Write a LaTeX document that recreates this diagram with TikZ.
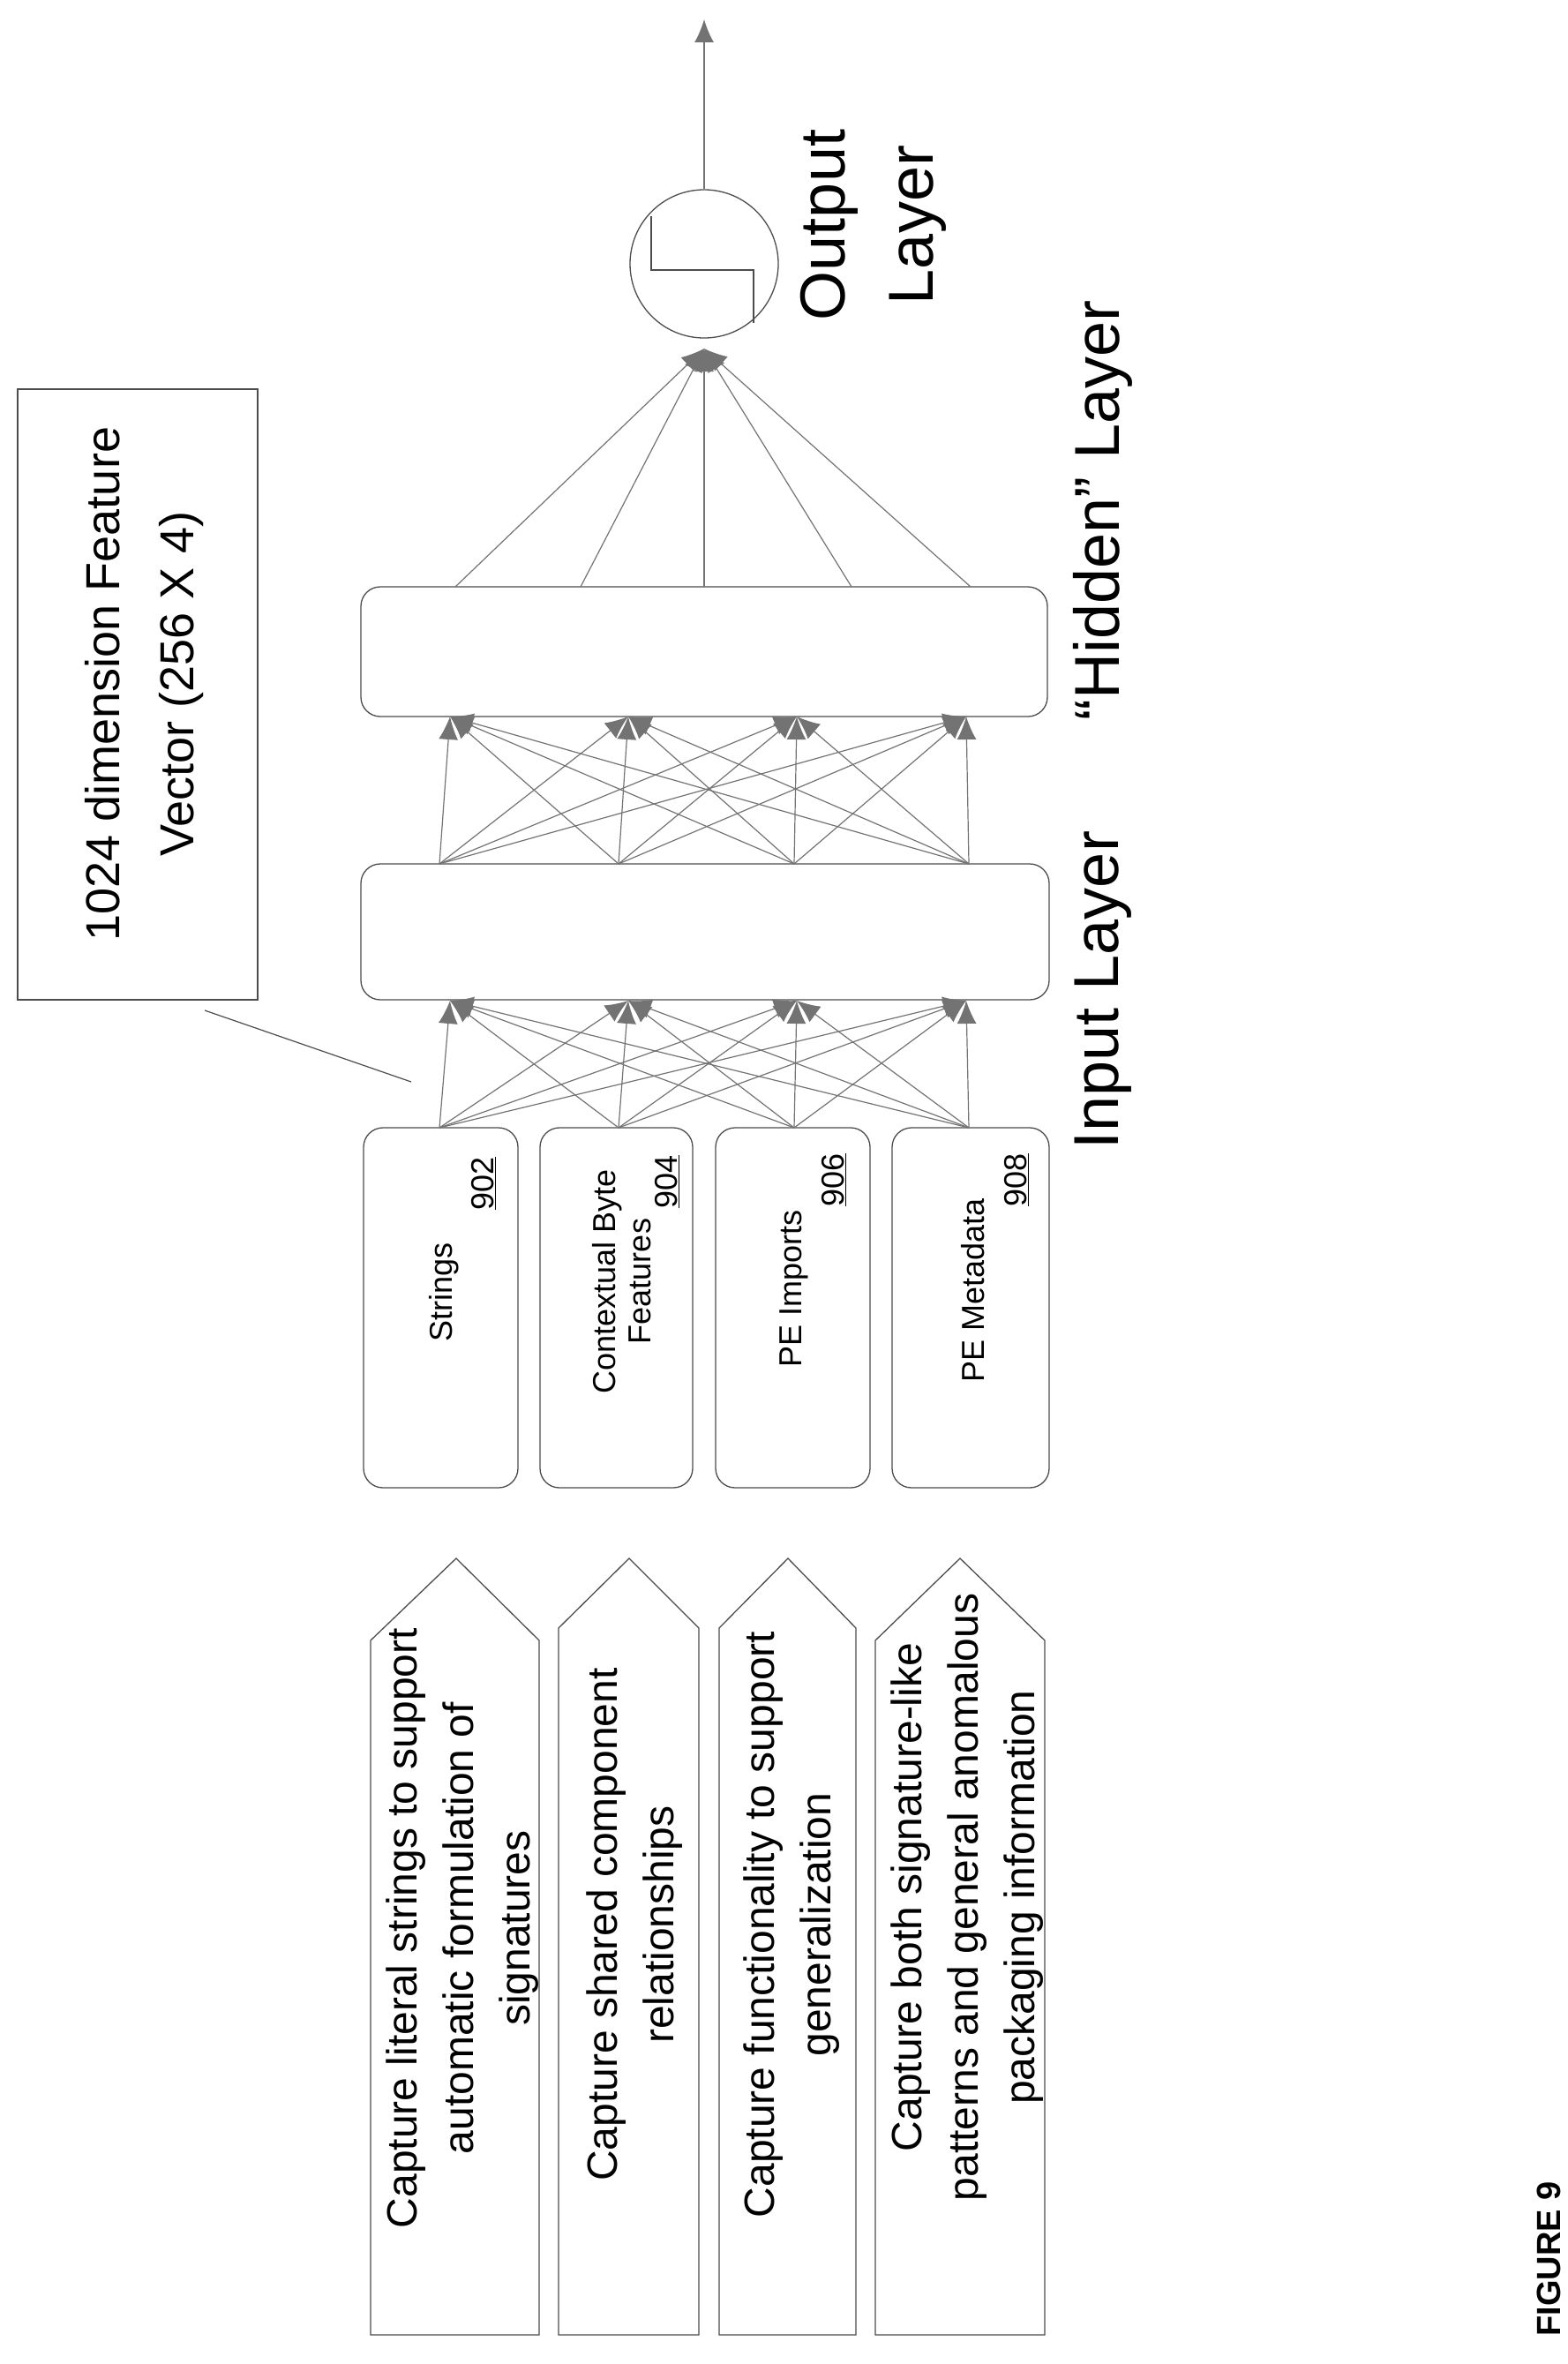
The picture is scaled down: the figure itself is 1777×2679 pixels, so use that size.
\documentclass[tikz,border=0pt]{standalone}
\usepackage{fontspec}
\setmainfont{Liberation Sans}
\usetikzlibrary{arrows.meta}
\begin{document}
\begin{tikzpicture}[x=1pt,y=-1pt,
  box/.style={draw=black!70,line width=1.3pt,rounded corners=22pt,inner sep=0pt},
  conn/.style={draw=black!55,line width=1.2pt,-{Latex[length=26pt,width=22pt]}},
  lbl/.style={rotate=90,align=center,font=\fontsize{72}{100}\selectfont},
  ftxt/.style={rotate=90,align=center,font=\fontsize{36}{40}\selectfont},
  ptxt/.style={rotate=90,align=center,font=\fontsize{48}{64}\selectfont},
  pent/.style={draw=black!70,line width=1.3pt}]
\useasboundingbox (0,0) rectangle (1777,2679);
% feature boxes
\node[box,minimum width=175pt,minimum height=408pt] (f1) at (499.5,1482) {};
\node[box,minimum width=173pt,minimum height=408pt] (f2) at (698.5,1482) {};
\node[box,minimum width=175pt,minimum height=408pt] (f3) at (898.5,1482) {};
\node[box,minimum width=178pt,minimum height=408pt] (f4) at (1100,1482) {};
\node[ftxt] (t1) at (503,1464) {Strings};
\node[ftxt] (n1) at (548,1341) {\underline{902}};
\node[ftxt] (t2) at (705,1452) {Contextual Byte\\Features};
\node[ftxt] (n2) at (756,1339) {\underline{904}};
\node[ftxt] (t3) at (900,1460) {PE Imports};
\node[ftxt] (n3) at (945,1337) {\underline{906}};
\node[ftxt] (t4) at (1103,1462) {PE Metadata};
\node[ftxt] (n4) at (1152,1337) {\underline{908}};
% layers
\node[box,minimum width=780pt,minimum height=154pt] (inl) at (799,1056) {};
\node[box,minimum width=778pt,minimum height=147pt] (hid) at (798,738.5) {};
\node[draw=black!70,line width=1.3pt,circle,minimum size=168pt,inner sep=0pt] (out) at (798,299) {};
\draw[black!70,line width=1.1pt] (738,245) -- (738,306) -- (854,306) -- (854,366);
\coordinate (top) at (798,22);
\draw[conn] (out.north) -- (top);
% connection points
\foreach \i/\x in {1/498,2/701,3/900,4/1098}{
  \coordinate (fb\i) at (\x,1278);
  \coordinate (it\i) at (\x,979);
}
\foreach \i/\x in {1/510,2/712,3/903,4/1095}{
  \coordinate (ib\i) at (\x,1134);
  \coordinate (hb\i) at (\x,812);
}
\foreach \i in {1,...,4}{\foreach \j in {1,...,4}{
  \draw[conn] (fb\i) -- (ib\j);
  \draw[conn] (it\i) -- (hb\j);
}}
\coordinate (oin) at (798,395);
\foreach \i/\x in {1/516,2/658,3/798,4/965,5/1100}{
  \coordinate (ht\i) at (\x,665);
  \draw[conn] (ht\i) -- (oin);
}
% feature vector
\node[draw=black!70,line width=1.3pt,minimum width=272pt,minimum height=692pt,inner sep=0pt] (fv) at (156,787) {};
\node[rotate=90,align=center,font=\fontsize{54}{84}\selectfont] (fvt) at (164,775) {1024 dimension Feature\\Vector (256 X 4)};
\coordinate (fva) at (232,1145);
\coordinate (fvb) at (466,1226);
\draw[black!70,line width=1.2pt] (fva) -- (fvb);
% labels
\node[lbl] (li) at (1250,1122) {Input Layer};
\node[lbl] (lh) at (1250,578) {``Hidden'' Layer};
\node[lbl] (lo) at (990,255) {Output\\Layer};
% pentagons
\draw[pent] (420,2646) -- (420,1859) -- (517,1766) -- (611,1859) -- (611,2646) -- cycle;
\draw[pent] (633,2646) -- (633,1845) -- (713,1766) -- (792,1845) -- (792,2646) -- cycle;
\draw[pent] (815,2646) -- (815,1845) -- (893,1766) -- (970,1845) -- (970,2646) -- cycle;
\draw[pent] (992,2646) -- (992,1859) -- (1088,1766) -- (1184,1859) -- (1184,2646) -- cycle;
\node[ptxt] (p1) at (524,2185) {Capture literal strings to support\\automatic formulation of\\signatures};
\node[ptxt] (p2) at (719,2181) {Capture shared component\\relationships};
\node[ptxt] (p3) at (897,2181) {Capture functionality to support\\generalization};
\node[ptxt] (p4) at (1096,2150) {Capture both signature-like\\patterns and general anomalous\\packaging information};
\node[rotate=90,font=\bfseries\fontsize{38}{40}\selectfont] (fig) at (1755,2560) {FIGURE 9};
\end{tikzpicture}
\end{document}
